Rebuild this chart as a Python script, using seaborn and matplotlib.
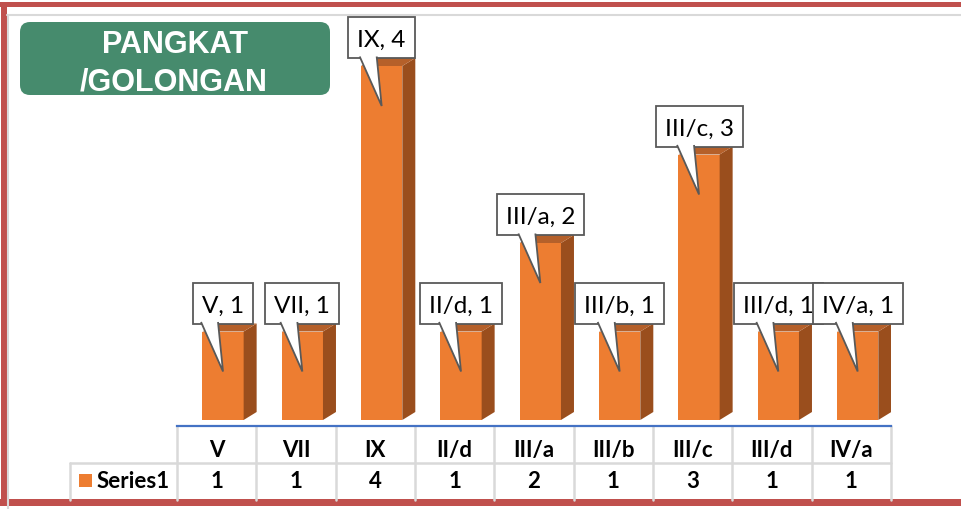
import matplotlib
matplotlib.use("Agg")
import matplotlib.pyplot as plt
import seaborn as sns
import pandas as pd
from matplotlib.patches import Polygon, Rectangle, FancyBboxPatch

categories = ["V", "VII", "IX", "II/d", "III/a", "III/b", "III/c", "III/d", "IV/a"]
counts = [1, 1, 4, 1, 2, 1, 3, 1, 1]
series_name = "Series1"
title_lines = ["PANGKAT", "/GOLONGAN"]

ORANGE = "#ED7D31"
TOP = "#B5602A"
SIDE = "#9A4E1D"
GREEN = "#468B6D"
RED = "#C0504D"
GRID = "#D9D9D9"
EDGE = "#595959"

W, H = 961, 509
sns.set_theme(style="white")
plt.rcParams["font.family"] = ["Lato", "DejaVu Sans"]

fig = plt.figure(figsize=(W / 100, H / 100), dpi=100)

# background layer in pixel coordinates (title, table, frame)
bg = fig.add_axes([0, 0, 1, 1], zorder=0)
bg.set_xlim(0, W)
bg.set_ylim(H, 0)
bg.axis("off")

# plot area (pixels)
X0, X1 = 177, 891
YTOP, YAX, Y0 = 15, 425.5, 420
ppu_y = 88.5
ppu_x = (X1 - X0) / len(categories)
ax = fig.add_axes([X0 / W, (H - YAX) / H, (X1 - X0) / W, (YAX - YTOP) / H], zorder=1)
ax.patch.set_alpha(0)

df = pd.DataFrame({"golongan": categories, "jumlah": counts})
sns.barplot(data=df, x="golongan", y="jumlah", color=ORANGE, saturation=1,
            width=0.52, linewidth=0, ax=ax)
ax.set_xlim(-0.5, len(categories) - 0.5)
ax.set_ylim(-(YAX - Y0) / ppu_y, (Y0 - YTOP) / ppu_y)
ax.set_xlabel("")
ax.set_ylabel("")
ax.set_xticks([])
ax.set_yticks([])
for s in ["top", "left", "right"]:
    ax.spines[s].set_visible(False)
ax.spines["bottom"].set_color("#4472C4")
ax.spines["bottom"].set_linewidth(1.6)

# fake 3D: shift bars a bit, add side and top faces
dx, dy = 13 / ppu_x, 8 / ppu_y
bars = list(ax.patches)
for p in bars:
    p.set_x(p.get_x() + 0.08)
    xl, xr, v = p.get_x(), p.get_x() + p.get_width(), p.get_height()
    ax.add_patch(Polygon([(xr, 0), (xr + dx, dy), (xr + dx, v + dy), (xr, v)],
                         closed=True, fc=SIDE, ec="none", zorder=2))
    ax.add_patch(Polygon([(xl, v), (xl + dx, v + dy), (xr + dx, v + dy), (xr, v)],
                         closed=True, fc=TOP, ec="none", zorder=2))

# callout labels
r = fig.canvas.get_renderer()
bh = 41 / ppu_y
for i, (p, cat, v) in enumerate(zip(bars, categories, counts)):
    xc = p.get_x() + p.get_width() / 2
    yb = v + 8 / ppu_y
    z = 10 + i
    t = ax.text(xc, yb + 11 / ppu_y, f"{cat}, {v}", ha="center", va="baseline",
                fontsize=17.5, color="black", zorder=z + 0.2)
    tw = t.get_window_extent(r).width
    bw = (tw + 18) / ppu_x
    ax.add_patch(Rectangle((xc - bw / 2, yb), bw, bh, fc="white", ec=EDGE, lw=1.3,
                           zorder=z, clip_on=False))
    ax.add_patch(Polygon([(xc - 22 / ppu_x, yb + 1.5 / ppu_y), (xc, v - 40 / ppu_y),
                          (xc - 5 / ppu_x, yb + 1.5 / ppu_y)], closed=False,
                         fc="white", ec=EDGE, lw=1.3, zorder=z + 0.1, clip_on=False))

# data table under the plot
ROW_MID, ROW_BOT = 462.5, 500
for k in range(len(categories) + 1):
    xe = X0 + k * ppu_x
    bg.plot([xe, xe], [YAX, ROW_BOT], color=GRID, lw=1.8)
bg.plot([70, X1], [ROW_MID, ROW_MID], color=GRID, lw=1.8)
bg.plot([70, 70], [ROW_MID, ROW_BOT], color=GRID, lw=1.8)
for k, (cat, v) in enumerate(zip(categories, counts)):
    xm = X0 + (k + 0.5) * ppu_x
    bg.text(xm, 457, cat, ha="center", va="baseline", fontsize=16, fontweight="bold", color="black")
    bg.text(xm, 488, str(v), ha="center", va="baseline", fontsize=16, fontweight="bold", color="black")
bg.add_patch(Rectangle((79, 474), 13, 13, fc=ORANGE, ec="none"))
bg.text(97, 488, series_name, ha="left", va="baseline", fontsize=16, fontweight="bold", color="black")

# title box
bg.add_patch(FancyBboxPatch((20, 22), 310, 73, boxstyle="round,pad=0,rounding_size=10",
                            fc=GREEN, ec="none"))
bg.text(175, 53, title_lines[0], ha="center", va="baseline", fontsize=22, fontweight="bold",
        color="white", family=["Liberation Sans", "DejaVu Sans"])
bg.text(174, 90, title_lines[1], ha="center", va="baseline", fontsize=22, fontweight="bold",
        color="white", family=["Liberation Sans", "DejaVu Sans"])

# chart frame
bg.plot([7, W], [15, 15], color=GRID, lw=1.5)
bg.plot([8, 8], [15, H], color=GRID, lw=1.5)
bg.add_patch(Rectangle((0, 2), W, 5, fc=RED, ec="none"))
bg.add_patch(Rectangle((1, 2), 6, 504, fc=RED, ec="none"))
bg.add_patch(Rectangle((0, 499), W, 7, fc=RED, ec="none"))

fig.savefig("out.png", dpi=100)
